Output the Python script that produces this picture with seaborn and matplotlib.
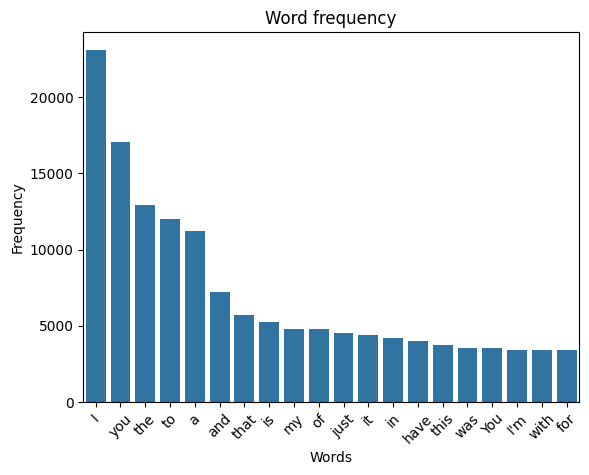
import matplotlib
matplotlib.use("Agg")
import matplotlib.pyplot as plt
import seaborn as sns
import pandas as pd

words = ["I", "you", "the", "to", "a", "and", "that", "is", "my", "of",
         "just", "it", "in", "have", "this", "was", "You", "I'm", "with", "for"]
counts = [23110, 17060, 12910, 11990, 11200, 7190, 5740, 5220, 4820, 4820,
          4560, 4430, 4230, 4030, 3770, 3570, 3570, 3440, 3440, 3440]

df = pd.DataFrame({"Words": words, "Frequency": counts})

fig = plt.figure(figsize=(5.89, 4.75), dpi=100)
ax = fig.add_axes([83.3 / 589, 1 - 402 / 475, (579 - 83.3) / 589, (402 - 32.3) / 475])
sns.barplot(data=df, x="Words", y="Frequency", ax=ax, color="#1f77b4")
ax.set_title("Word frequency")
ax.set_xlabel("Words")
ax.set_ylabel("Frequency")
plt.setp(ax.get_xticklabels(), rotation=45)
fig.savefig("out.png", dpi=100)
